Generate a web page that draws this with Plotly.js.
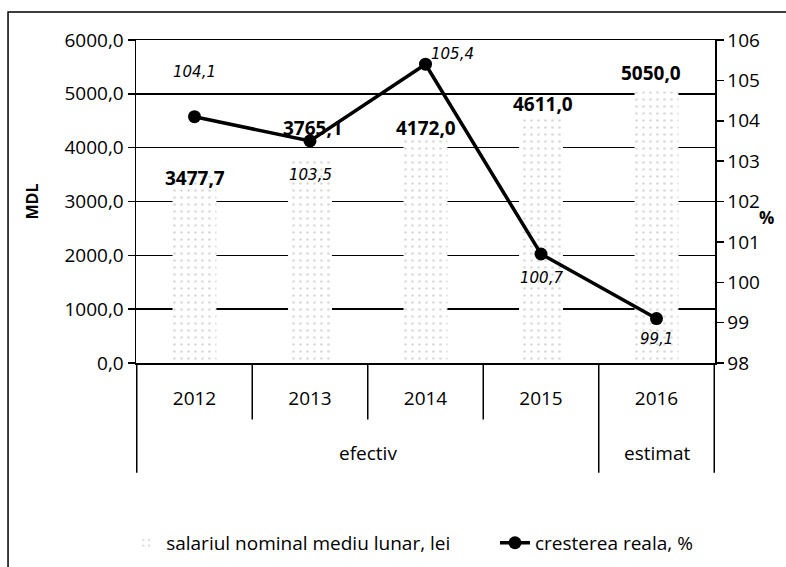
<!DOCTYPE html>
<html>
<head>
<meta charset="utf-8">
<script src="https://cdn.plot.ly/plotly-3.0.1.min.js"></script>
<style>
  body { margin: 0; background: #fff; }
  #chart { width: 786px; height: 567px; }
</style>
</head>
<body>
<div id="chart"></div>
<script>
// salariul nominal mediu lunar (lei) si cresterea reala (%)
var years = ['2012', '2013', '2014', '2015', '2016'];
var groups = ['efectiv', 'efectiv', 'efectiv', 'efectiv', 'estimat'];
var salary = [3477.7, 3765.1, 4172.0, 4611.0, 5050.0];
var growth = [104.1, 103.5, 105.4, 100.7, 99.1];

var salaryName = 'salariul nominal mediu lunar, lei';
var growthName = 'cresterea reala, %';

// label nudges, pixels (hand placed in the original)
var salaryShift = [[0, -2], [3, 32], [0, 10], [2, 11], [-6, 18]];
var growthShift = [[0, 45], [0, -34], [27, 10], [0, -24], [0, -20]];

var font = 'Open Sans, sans-serif';

function fmt(v) {
  return v.toFixed(1).replace('.', ',');
}

var trace_salary = {
  x: years,
  y: salary,
  type: 'bar',
  name: salaryName,
  legend: 'legend',
  width: 0.38,
  marker: {
    color: '#ffffff',
    line: { width: 0 },
    pattern: { shape: '.', fgcolor: '#dadada', bgcolor: '#ffffff', size: 7, solidity: 0.12 }
  },
  hoverinfo: 'skip'
};

var trace_growth = {
  x: years,
  y: growth,
  yaxis: 'y2',
  type: 'scatter',
  mode: 'lines+markers',
  name: growthName,
  legend: 'legend2',
  line: { color: '#000', width: 3.5 },
  marker: { color: '#000', size: 13 },
  hoverinfo: 'skip'
};

var annotations = [];

salary.forEach(function(v, i) {
  annotations.push({
    x: i, y: v, xref: 'x', yref: 'y',
    text: '<b>' + fmt(v) + '</b>',
    showarrow: false, yanchor: 'middle',
    xshift: salaryShift[i][0], yshift: salaryShift[i][1],
    font: { family: font, size: 19, color: '#000' }
  });
});

growth.forEach(function(v, i) {
  annotations.push({
    x: i, y: v, xref: 'x', yref: 'y2',
    text: '<i>' + fmt(v) + '</i>',
    showarrow: false, yanchor: 'middle',
    xshift: growthShift[i][0], yshift: growthShift[i][1],
    font: { family: 'DejaVu Sans, sans-serif', size: 15, color: '#000' }
  });
});

// group row under the years
var shapes = [];
var rowYear = -0.175, rowGroup = -0.34;
var start = 0;
for (var i = 1; i <= groups.length; i++) {
  if (i === groups.length || groups[i] !== groups[start]) {
    annotations.push({
      x: (start + i - 1) / 2, y: -0.279, xref: 'x', yref: 'paper',
      text: groups[start], showarrow: false, yanchor: 'middle',
      font: { family: font, size: 19, color: '#000' }
    });
    shapes.push({
      type: 'line', xref: 'x', yref: 'paper',
      x0: i - 0.5, x1: i - 0.5, y0: 0, y1: rowGroup,
      line: { color: '#000', width: 1.5 }
    });
    start = i;
  }
}
shapes.push({
  type: 'line', xref: 'x', yref: 'paper',
  x0: -0.5, x1: -0.5, y0: 0, y1: rowGroup,
  line: { color: '#000', width: 1.5 }
});
for (var j = 1; j < years.length; j++) {
  if (groups[j] === groups[j - 1]) {
    shapes.push({
      type: 'line', xref: 'x', yref: 'paper',
      x0: j - 0.5, x1: j - 0.5, y0: 0, y1: rowYear,
      line: { color: '#000', width: 1.5 }
    });
  }
}
// outer frame of the scanned chart
shapes.push({
  type: 'rect', xref: 'paper', yref: 'paper',
  x0: -0.221, x1: 1.3, y0: -1.2, y1: 1.087,
  line: { color: '#000', width: 1.5 }
});

annotations.push({
  x: 1.105, y: 0.452, xref: 'paper', yref: 'paper',
  text: '<b>%</b>', showarrow: false,
  font: { family: font, size: 17, color: '#000' }
});

var legendStyle = {
  orientation: 'h',
  xanchor: 'left',
  y: -0.557, yanchor: 'middle',
  font: { family: font, size: 19, color: '#000' },
  bgcolor: 'rgba(0,0,0,0)'
};

var layout = {
  width: 786,
  height: 567,
  margin: { l: 136, r: 71, t: 40, b: 204, autoexpand: false },
  paper_bgcolor: '#fff',
  plot_bgcolor: '#fff',
  separators: ', ',
  font: { family: font, size: 19, color: '#000' },
  showlegend: true,
  legend: Object.assign({}, legendStyle, { x: -0.017 }),
  legend2: Object.assign({}, legendStyle, { x: 0.62 }),
  xaxis: {
    type: 'category',
    showgrid: false,
    showline: true, mirror: true,
    linecolor: '#000', linewidth: 1.5,
    ticks: '',
    ticklabelstandoff: 18,
    tickfont: { family: font, size: 19, color: '#000' }
  },
  yaxis: {
    range: [0, 6000],
    dtick: 1000,
    tickformat: '.1f',
    showgrid: true, gridcolor: '#000', gridwidth: 1.5,
    zeroline: false,
    showline: true, linecolor: '#000', linewidth: 1.5,
    ticks: 'outside', ticklen: 7, tickcolor: '#000', tickwidth: 1.5,
    tickfont: { family: font, size: 19, color: '#000' },
    title: { text: '<b>MDL</b>', font: { family: font, size: 16, color: '#000' }, standoff: 22 }
  },
  yaxis2: {
    overlaying: 'y',
    side: 'right',
    range: [98, 106],
    dtick: 1,
    showgrid: false,
    zeroline: false,
    showline: true, linecolor: '#000', linewidth: 1.5,
    ticks: 'outside', ticklen: 7, tickcolor: '#000', tickwidth: 1.5,
    tickfont: { family: font, size: 19, color: '#000' }
  },
  annotations: annotations,
  shapes: shapes
};

Plotly.newPlot('chart', [trace_salary, trace_growth], layout, { displayModeBar: false, staticPlot: true });
</script>
</body>
</html>
